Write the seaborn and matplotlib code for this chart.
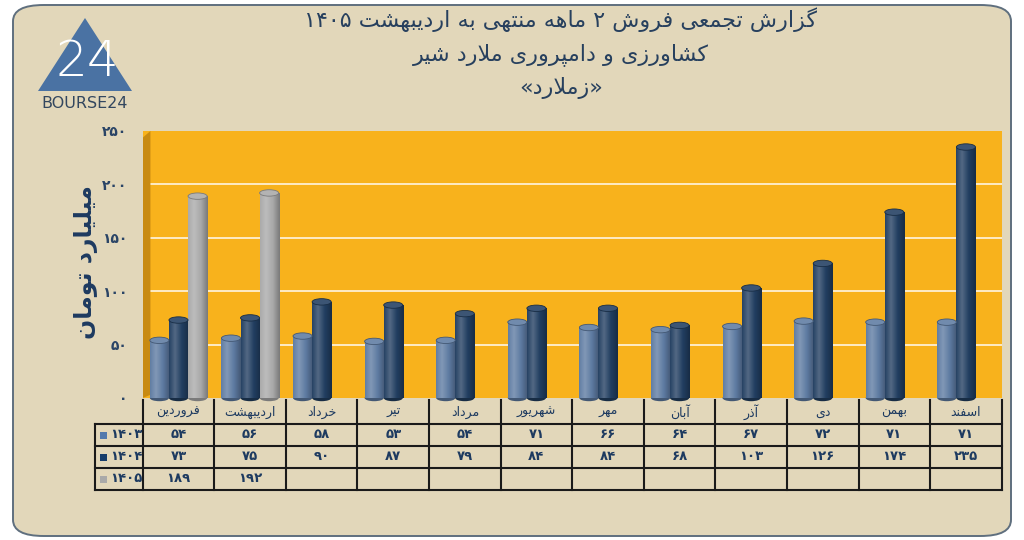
import re
import numpy as np
import pandas as pd
import matplotlib
matplotlib.use('Agg')
import matplotlib.pyplot as plt
import seaborn as sns
from matplotlib.patches import Ellipse, FancyBboxPatch, Polygon, Rectangle
from matplotlib.colors import LinearSegmentedColormap, to_rgb

# data
months = ['فروردین', 'اردیبهشت', 'خرداد', 'تیر', 'مرداد', 'شهریور',
          'مهر', 'آبان', 'آذر', 'دی', 'بهمن', 'اسفند']
years = ['1403', '1404', '1405']
sales_1403 = [54, 56, 58, 53, 54, 71, 66, 64, 67, 72, 71, 71]
sales_1404 = [73, 75, 90, 87, 79, 84, 84, 68, 103, 126, 174, 235]
sales_1405 = [189, 192]
yticks = [0, 50, 100, 150, 200, 250]
colors = ['#5279ad', '#173d6b', '#a9a9a9']
title_lines = ['گزارش تجمعی فروش 2 ماهه منتهی به اردیبهشت 1405',
               'کشاورزی و دامپروری ملارد شیر',
               '«زملارد»']
ylabel = 'میلیارد تومان'

NAVY = '#1d3a60'
BEIGE = '#e2d7ba'
ORANGE = '#f8b21c'

# --- tiny persian shaper (matplotlib has no text shaping) ---
FORMS = {
    'ا': (0xFE8D, 2), 'آ': (0xFE81, 2), 'ب': (0xFE8F, 4), 'پ': (0xFB56, 4),
    'ت': (0xFE95, 4), 'ث': (0xFE99, 4), 'ج': (0xFE9D, 4), 'چ': (0xFB7A, 4),
    'ح': (0xFEA1, 4), 'خ': (0xFEA5, 4), 'د': (0xFEA9, 2), 'ذ': (0xFEAB, 2),
    'ر': (0xFEAD, 2), 'ز': (0xFEAF, 2), 'ژ': (0xFB8A, 2), 'س': (0xFEB1, 4),
    'ش': (0xFEB5, 4), 'ص': (0xFEB9, 4), 'ض': (0xFEBD, 4), 'ط': (0xFEC1, 4),
    'ظ': (0xFEC5, 4), 'ع': (0xFEC9, 4), 'غ': (0xFECD, 4), 'ف': (0xFED1, 4),
    'ق': (0xFED5, 4), 'ک': (0xFB8E, 4), 'گ': (0xFB92, 4), 'ل': (0xFEDD, 4),
    'م': (0xFEE1, 4), 'ن': (0xFEE5, 4), 'ه': (0xFEE9, 4), 'و': (0xFEED, 2),
    'ی': (0xFBFC, 4),
}
LAM_ALEF = {'ا': 0xFEFB, 'آ': 0xFEF5}
DIGITS = str.maketrans('0123456789', '۰۱۲۳۴۵۶۷۸۹')


def shape(text):
    out = []
    i = 0
    while i < len(text):
        c = text[i]
        if c not in FORMS:
            out.append(c)
            i += 1
            continue
        p = text[i - 1] if i > 0 else ''
        nx = text[i + 1] if i + 1 < len(text) else ''
        jp = p in FORMS and FORMS[p][1] == 4
        if c == 'ل' and nx in LAM_ALEF:
            out.append(chr(LAM_ALEF[nx] + jp))
            i += 2
            continue
        base, n = FORMS[c]
        jn = n == 4 and nx in FORMS
        idx = 3 if (jp and jn) else 1 if jp else 2 if jn else 0
        out.append(chr(base + idx))
        i += 1
    return ''.join(out)


def fa(text):
    s = shape(str(text).translate(DIGITS))[::-1]
    s = re.sub('[۰-۹]+', lambda m: m.group(0)[::-1], s)
    return s.translate(str.maketrans('«»', '»«'))


rows = []
for y, vals in zip(years, [sales_1403, sales_1404, sales_1405]):
    for m, v in zip(months, vals):
        rows.append({'month': m, 'year': y, 'value': v})
df = pd.DataFrame(rows)

plt.rcParams['font.family'] = ['DejaVu Sans']
fig = plt.figure(figsize=(10.24, 5.4), dpi=100, facecolor='white')

# rounded panel
fig.patches.append(FancyBboxPatch((13 / 1024, 4 / 540), 998 / 1024, 531 / 540,
                                  boxstyle='round,pad=0,rounding_size=0.03',
                                  transform=fig.transFigure, facecolor=BEIGE,
                                  edgecolor='#5f6f7e', linewidth=1.4, zorder=-5))

W, H = 1024, 540
ax = fig.add_axes([142.7 / W, (H - 398) / H, 859 / W, 267 / H])
sns.barplot(data=df, x='month', y='value', hue='year', order=months,
            hue_order=years, palette=colors, width=0.8, legend=False,
            linewidth=0, ax=ax)
ax.set_facecolor(ORANGE)
ax.set_ylim(0, 250)
ax.set_xlim(-0.5, 11.5)
for s in ax.spines.values():
    s.set_visible(False)
for t in yticks[1:-1]:
    ax.axhline(t, color='white', lw=1.3, alpha=0.8, zorder=0.5)
ax.add_patch(Polygon([(0, 0), (0.009, 0.012), (0.009, 1), (0, 0.975)],
                     closed=True, transform=ax.transAxes, facecolor='#c88a12',
                     edgecolor='none', zorder=0.6))

# cylinder shading on each bar
cap = 0.024 * 250
grad = np.interp(np.linspace(0, 1, 64), [0, 0.3, 1], [0.45, 0.0, 1.0])[None, :]
for p in list(ax.patches):
    if not isinstance(p, Rectangle) or p.get_height() <= 0:
        continue
    x0, w, h = p.get_x(), p.get_width(), p.get_height()
    base = np.array(to_rgb(p.get_facecolor()))
    light = base + (1 - base) * 0.22
    dark = base * 0.72
    cmap = LinearSegmentedColormap.from_list('c', [light, base, dark])
    im = ax.imshow(grad, extent=(x0, x0 + w, 0, h), aspect='auto', cmap=cmap,
                   vmin=0, vmax=1, zorder=2.1)
    im.set_clip_path(p)
    ax.add_patch(Ellipse((x0 + w / 2, 0), w, cap, facecolor=dark,
                         edgecolor='none', zorder=2.0, clip_on=False))
    ax.add_patch(Ellipse((x0 + w / 2, h), w, cap, facecolor=base + (1 - base) * 0.12,
                         edgecolor=dark, linewidth=0.6, zorder=2.2))
ax.set_xlim(-0.5, 11.5)
ax.set_ylim(0, 250)

ax.set_xticks([])
ax.set_xlabel('')
ax.set_yticks(yticks)
ax.set_yticklabels([fa(t) for t in yticks], color='#2a4466', fontsize=10,
                   fontweight='bold')
ax.tick_params(axis='y', length=0, pad=11)
ax.set_ylabel(fa(ylabel), color=NAVY, fontsize=17, fontweight='bold',
              va='center')
ax.yaxis.set_label_coords(-0.066, 0.51)

# data table under the bars (y in pixel units)
tax = fig.add_axes([142.7 / W, (H - 490) / H, 859 / W, 92 / H])
tax.set_xlim(-0.5, 11.5)
tax.set_ylim(490, 398)
tax.axis('off')
left = -0.5 - (142.7 - 95) / 71.6
lc = '#1a1a1a'
row_y = [424, 446, 468, 490]
for y in row_y:
    tax.plot([left, 11.5], [y, y], color=lc, lw=1.5, clip_on=False)
for i in range(13):
    tax.plot([i - 0.5, i - 0.5], [400, 490], color=lc, lw=1.5, clip_on=False)
tax.plot([left, left], [424, 490], color=lc, lw=1.5, clip_on=False)
for i, m in enumerate(months):
    tax.text(i, 412, fa(m), ha='center', va='center', fontsize=9, color=NAVY)
series = [sales_1403, sales_1404, sales_1405]
for r, (y, vals, c) in enumerate(zip(years, series, colors)):
    yc = (row_y[r] + row_y[r + 1]) / 2
    tax.add_patch(Rectangle((left + 0.07, yc - 3.5), 0.1, 7, facecolor=c,
                            edgecolor='none', clip_on=False))
    tax.text(-0.73, yc, fa(y), ha='center', va='center', fontsize=9.5,
             fontweight='bold', color=NAVY, clip_on=False)
    for i, v in enumerate(vals):
        tax.text(i, yc, fa(v), ha='center', va='center', fontsize=9.5,
                 fontweight='bold', color=NAVY)

# titles
for t, yy in zip(title_lines, [20, 55, 88]):
    fig.text(561 / W, 1 - yy / H, fa(t), ha='center', va='center',
             fontsize=16, color='#27405e')

# logo
lax = fig.add_axes([30 / W, (H - 110) / H, 110 / W, 100 / H])
lax.set_xlim(0, 110)
lax.set_ylim(100, 0)
lax.axis('off')
lax.add_patch(Polygon([(55, 8), (8, 81), (102, 81)], closed=True,
                      facecolor='#4a72a3', edgecolor='none'))
lax.text(57, 52, '24', ha='center', va='center', fontsize=36, color='white',
         fontweight='light')
lax.text(55, 93, 'BOURSE24', ha='center', va='center', fontsize=11.5,
         color='#33475f')

fig.savefig('out.png', dpi=100, facecolor='white')
